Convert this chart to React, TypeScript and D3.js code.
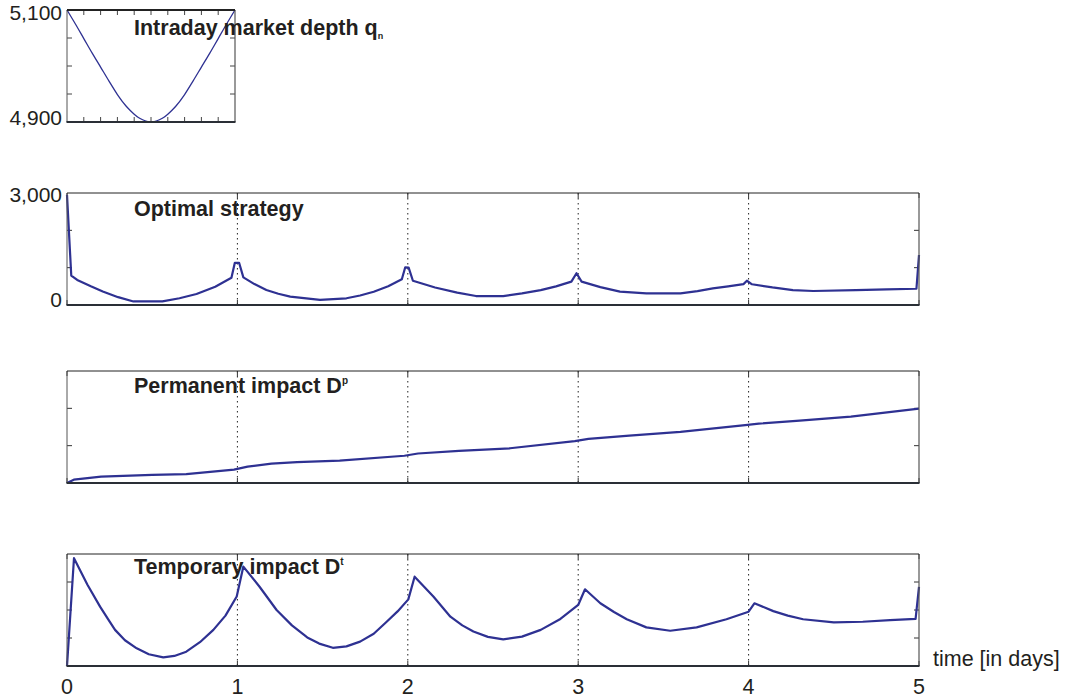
import React from 'react';
import * as d3 from 'd3';

// intraday market depth q_n over one day
const depthT = [0, 0.05, 0.1, 0.15, 0.2, 0.25, 0.3, 0.35, 0.375, 0.4, 0.425, 0.45, 0.475, 0.5, 0.525, 0.55, 0.575, 0.6, 0.625, 0.65, 0.7, 0.75, 0.8, 0.85, 0.9, 0.95, 1];
const depthQ = [5100, 5075, 5049, 5023, 4998, 4973, 4949, 4929, 4921, 4914, 4908, 4904, 4901, 4900, 4901, 4904, 4908, 4914, 4921, 4929, 4949, 4973, 4998, 5023, 5049, 5075, 5100];

// optimal strategy over five days
const strategyT = [0, 0.025, 0.06, 0.14, 0.21, 0.3, 0.39, 0.56, 0.66, 0.76, 0.87, 0.965, 0.985, 1.01, 1.035, 1.1, 1.17, 1.24, 1.31, 1.485, 1.64, 1.72, 1.8, 1.885, 1.965, 1.985, 2.005, 2.03, 2.16, 2.29, 2.4, 2.56, 2.67, 2.78, 2.87, 2.96, 2.99, 3.02, 3.13, 3.245, 3.4, 3.6, 3.7, 3.79, 3.88, 3.97, 3.99, 4.02, 4.14, 4.26, 4.38, 4.63, 4.81, 4.985, 5];
const strategyV = [2950, 790, 670, 500, 360, 210, 95, 95, 180, 295, 490, 730, 1130, 1130, 740, 560, 400, 300, 225, 135, 180, 255, 355, 500, 690, 1010, 1000, 650, 470, 330, 240, 240, 310, 400, 500, 625, 850, 625, 480, 360, 310, 310, 370, 445, 500, 560, 650, 555, 470, 400, 375, 400, 420, 435, 1340];

// permanent impact D^p
const permanentT = [0, 0.04, 0.2, 0.5, 0.7, 0.98, 1.06, 1.2, 1.35, 1.6, 1.98, 2.06, 2.3, 2.6, 2.98, 3.06, 3.3, 3.6, 3.98, 4.06, 4.3, 4.6, 5];
const permanentV = [0, 0.09, 0.17, 0.22, 0.24, 0.36, 0.44, 0.52, 0.56, 0.6, 0.73, 0.79, 0.86, 0.93, 1.12, 1.18, 1.27, 1.37, 1.55, 1.59, 1.67, 1.78, 1.99];

// temporary impact D^t
const temporaryT = [0, 0.041, 0.12, 0.194, 0.24, 0.282, 0.34, 0.409, 0.48, 0.565, 0.63, 0.7, 0.78, 0.859, 0.93, 0.996,
  1.035, 1.13, 1.23, 1.32, 1.41, 1.48, 1.56, 1.64, 1.72, 1.8, 1.876, 1.94, 2.003,
  2.04, 2.15, 2.25, 2.32, 2.385, 2.47, 2.56, 2.67, 2.78, 2.89, 3.0,
  3.04, 3.13, 3.21, 3.285, 3.4, 3.54, 3.695, 3.87, 4.0,
  4.034, 4.145, 4.23, 4.32, 4.5, 4.67, 4.83, 4.98, 5];
const temporaryV = [0, 3.85, 2.9, 2.12, 1.68, 1.29, 0.92, 0.63, 0.42, 0.31, 0.36, 0.51, 0.85, 1.29, 1.8, 2.48,
  3.55, 2.83, 2.0, 1.45, 1.02, 0.8, 0.65, 0.7, 0.87, 1.15, 1.58, 1.95, 2.38,
  3.19, 2.48, 1.76, 1.45, 1.23, 1.04, 0.95, 1.05, 1.29, 1.66, 2.18,
  2.74, 2.24, 1.93, 1.67, 1.38, 1.26, 1.38, 1.67, 1.94,
  2.24, 1.96, 1.8, 1.67, 1.56, 1.58, 1.64, 1.68, 2.83];

const dayTicks = [0, 1, 2, 3, 4, 5];
const dayLines = [1, 2, 3, 4];
const intraTicks = [0.1, 0.2, 0.3, 0.4, 0.5, 0.6, 0.7, 0.8, 0.9];

const LINE = '#2e3192';
const FONT = '"Liberation Sans", Arial, Helvetica, sans-serif';
const PH = 112;
const TICK = 5;

const xDays = d3.scaleLinear().domain([0, 5]).range([67, 919]);
const xIntra = d3.scaleLinear().domain([0, 1]).range([67, 235]);
const fmt = d3.format(',');

function Frame({ x0, x1, top, thickTop }: any) {
  const bottom = top + PH;
  return (
    <g>
      <line x1={x0} x2={x0} y1={top} y2={bottom} stroke="#555" strokeWidth={1} />
      <line x1={x1} x2={x1} y1={top} y2={bottom} stroke="#555" strokeWidth={1.2} />
      <line x1={x0} x2={x1} y1={top} y2={top} stroke="#222" strokeWidth={thickTop ? 2 : 1} />
      <line x1={x0 - 0.5} x2={x1 + 0.5} y1={bottom} y2={bottom} stroke="#2a2f36" strokeWidth={2.2} />
    </g>
  );
}

function DepthPanel() {
  const top = 10;
  const y = d3.scaleLinear().domain([4900, 5100]).range([top + PH, top]);
  const line = d3.line<number>().x((_, i) => xIntra(depthT[i])).y((d) => y(d)).curve(d3.curveMonotoneX);
  const [x0, x1] = xIntra.range();
  return (
    <g>
      {intraTicks.map((t) => (
        <g key={t}>
          <line x1={xIntra(t)} x2={xIntra(t)} y1={top} y2={top + TICK} stroke="#444" />
          <line x1={xIntra(t)} x2={xIntra(t)} y1={top + PH} y2={top + PH - TICK} stroke="#444" />
        </g>
      ))}
      {[4950, 5000, 5050].map((v) => (
        <g key={v}>
          <line x1={x0} x2={x0 + TICK} y1={y(v)} y2={y(v)} stroke="#444" />
          <line x1={x1} x2={x1 - TICK} y1={y(v)} y2={y(v)} stroke="#444" />
        </g>
      ))}
      <path d={line(depthQ) || ''} fill="none" stroke={LINE} strokeWidth={1.3} />
      <Frame x0={x0} x1={x1} top={top} thickTop />
      <text x={62} y={y(5100) + 10} textAnchor="end" fontSize={21}>{fmt(5100)}</text>
      <text x={62} y={y(4900) + 3} textAnchor="end" fontSize={21}>{fmt(4900)}</text>
      <text x={134} y={top + 25} fontSize={21.5} fontWeight="bold" fill="#231f20">
        Intraday market depth q<tspan fontSize={9} dy={4}>n</tspan>
      </text>
    </g>
  );
}

function DayPanel({ top, t, v, domain, ticks, labels, title, script, titleDy }: any) {
  const y = d3.scaleLinear().domain(domain).range([top + PH, top]);
  const line = d3.line<number>().x((_, i) => xDays(t[i])).y((d) => y(d));
  const [x0, x1] = xDays.range();
  return (
    <g>
      {dayLines.map((d) => (
        <line key={d} x1={xDays(d)} x2={xDays(d)} y1={top} y2={top + PH}
          stroke="#222" strokeWidth={1} strokeDasharray="1.5 3.5" />
      ))}
      {dayTicks.map((d) => (
        <g key={d}>
          <line x1={xDays(d)} x2={xDays(d)} y1={top} y2={top + TICK} stroke="#333" />
          <line x1={xDays(d)} x2={xDays(d)} y1={top + PH} y2={top + PH - TICK} stroke="#333" />
        </g>
      ))}
      {ticks.map((k: number) => (
        <g key={k}>
          <line x1={x0} x2={x0 + TICK} y1={y(k)} y2={y(k)} stroke="#333" />
          <line x1={x1} x2={x1 - TICK} y1={y(k)} y2={y(k)} stroke="#333" />
        </g>
      ))}
      <path d={line(v) || ''} fill="none" stroke={LINE} strokeWidth={2.2} strokeLinejoin="round" />
      <Frame x0={x0} x1={x1} top={top} />
      {labels.map((l: number, i: number) => (
        <text key={l} x={62} y={y(l) + (i === 0 ? 2 : 9)} textAnchor="end" fontSize={21}>{fmt(l)}</text>
      ))}
      <text x={134} y={top + titleDy} fontSize={21.5} fontWeight="bold" fill="#231f20">
        {title}
        {script ? <tspan fontSize={10} dy={-9}>{script}</tspan> : null}
      </text>
    </g>
  );
}

export default function App() {
  return (
    <svg width={1070} height={700} style={{ position: 'absolute', left: 0, top: 0, background: '#fff' }}
      fontFamily={FONT} fill="#231f20">
      <DepthPanel />
      <DayPanel top={193} t={strategyT} v={strategyV} domain={[0, 3000]} ticks={[1000, 2000]}
        labels={[0, 3000]} title="Optimal strategy" titleDy={23} />
      <DayPanel top={371} t={permanentT} v={permanentV} domain={[0, 3]} ticks={[1, 2]}
        labels={[]} title="Permanent impact D" script="p" titleDy={22} />
      <DayPanel top={554} t={temporaryT} v={temporaryV} domain={[0, 4]} ticks={[1, 2, 3]}
        labels={[]} title="Temporary impact D" script="t" titleDy={20} />
      {dayTicks.map((d) => (
        <text key={d} x={xDays(d)} y={694} textAnchor="middle" fontSize={21.5}>{d}</text>
      ))}
      <text x={933} y={666} fontSize={21.5}>time [in days]</text>
    </svg>
  );
}
